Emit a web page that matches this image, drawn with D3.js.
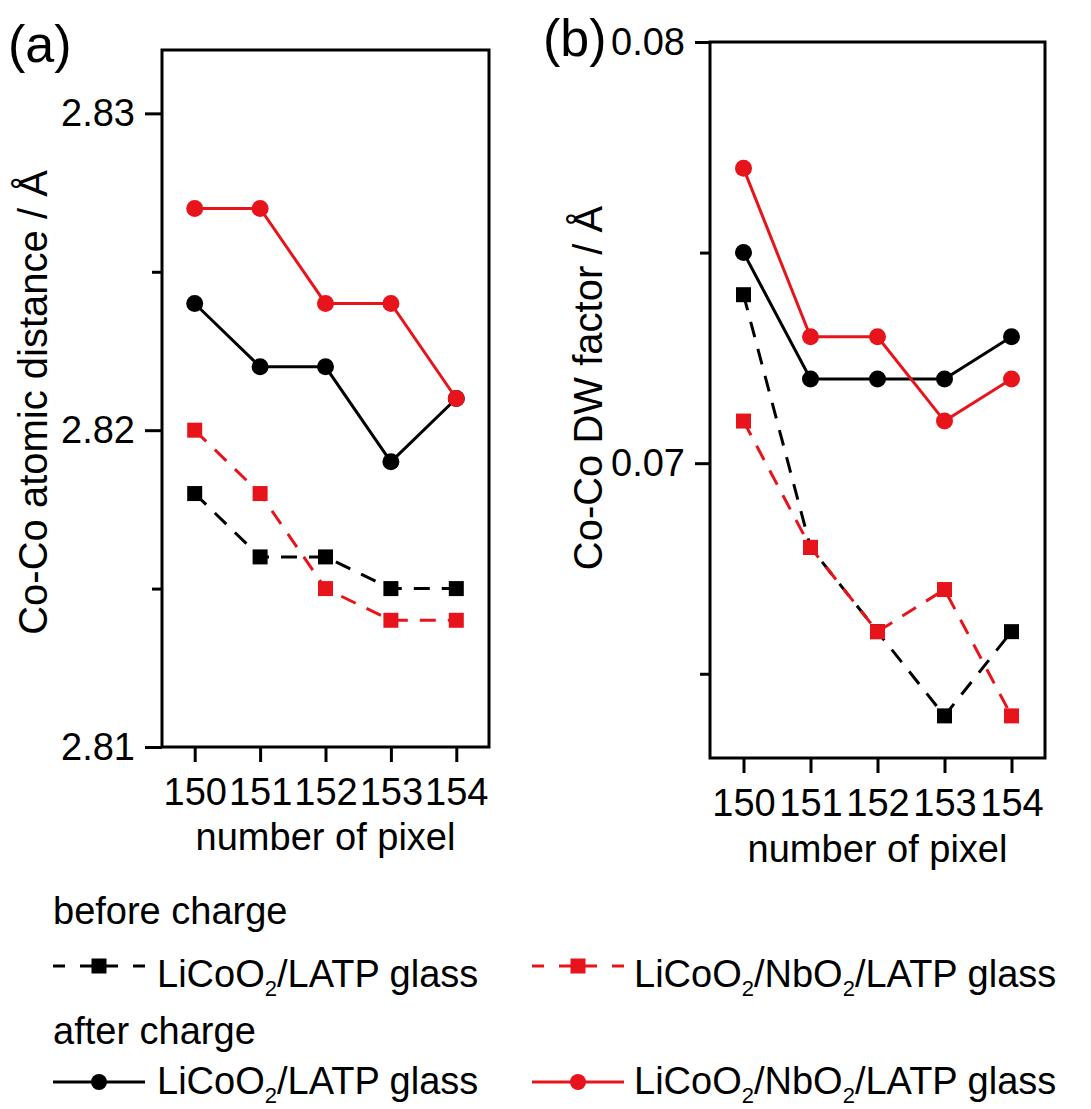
<!DOCTYPE html>
<html>
<head>
<meta charset="utf-8">
<script src="https://cdn.jsdelivr.net/npm/d3@7"></script>
<style>
  html, body { margin: 0; padding: 0; background: #fff; }
  svg text { font-family: "Liberation Sans", Arial, sans-serif; fill: #000; }
</style>
</head>
<body>
<svg id="chart" width="1091" height="1109"></svg>
<script>
// ---- data ----
const pixels = [150, 151, 152, 153, 154];

// (a) Co-Co atomic distance / Å
const distBeforeLATP = [2.818, 2.816, 2.816, 2.815, 2.815];
const distBeforeNb   = [2.820, 2.818, 2.815, 2.814, 2.814];
const distAfterLATP  = [2.824, 2.822, 2.822, 2.819, 2.821];
const distAfterNb    = [2.827, 2.827, 2.824, 2.824, 2.821];

// (b) Co-Co DW factor / Å
const dwBeforeLATP = [0.074, 0.068, 0.066, 0.064, 0.066];
const dwBeforeNb   = [0.071, 0.068, 0.066, 0.067, 0.064];
const dwAfterLATP  = [0.075, 0.072, 0.072, 0.072, 0.073];
const dwAfterNb    = [0.077, 0.073, 0.073, 0.071, 0.072];

const yTicksA = [2.81, 2.82, 2.83];
const yMinorA = [2.815, 2.825];
const yTicksB = [0.07, 0.08];
const yMinorB = [0.065, 0.075];

const groupTitles = ["before charge", "after charge"];

// ---- styles ----
const RED = "#e8141b", BLACK = "#000";
const styles = [
  { color: BLACK, dash: "16,12", marker: "square" },
  { color: RED,   dash: "16,12", marker: "square" },
  { color: BLACK, dash: null,    marker: "circle" },
  { color: RED,   dash: null,    marker: "circle" }
];
const FONT = "Liberation Sans, Arial, sans-serif";

const svg = d3.select("#chart");

function panel(cfg) {
  const g = svg.append("g");
  const x = d3.scaleLinear().domain([149.5, 154.5]).range([cfg.left, cfg.right]);
  const y = d3.scaleLinear().domain(cfg.yDomain).range([cfg.bottom, cfg.top]);

  // y minor ticks
  g.append("g").attr("transform", `translate(${cfg.left},0)`)
    .call(d3.axisLeft(y).tickValues(cfg.minor).tickSize(10).tickFormat(""))
    .call(s => s.select(".domain").remove())
    .call(s => s.selectAll("line").attr("stroke", "#000").attr("stroke-width", 3));

  // y major ticks
  g.append("g").attr("transform", `translate(${cfg.left},0)`)
    .call(d3.axisLeft(y).tickValues(cfg.major).tickSize(cfg.yTick).tickPadding(10).tickFormat(d3.format(".2f")))
    .call(s => s.select(".domain").remove())
    .call(s => s.selectAll("line").attr("stroke", "#000").attr("stroke-width", 3))
    .call(s => s.selectAll("text").attr("font-size", 38).attr("font-family", FONT).attr("fill", "#000"));

  // x ticks
  g.append("g").attr("transform", `translate(0,${cfg.bottom})`)
    .call(d3.axisBottom(x).tickValues(pixels).tickSize(15).tickPadding(16).tickFormat(d3.format("d")))
    .call(s => s.select(".domain").remove())
    .call(s => s.selectAll("line").attr("stroke", "#000").attr("stroke-width", 3))
    .call(s => s.selectAll("text").attr("font-size", 38).attr("font-family", FONT).attr("fill", "#000"));

  // frame
  g.append("rect")
    .attr("x", cfg.left).attr("y", cfg.top)
    .attr("width", cfg.right - cfg.left).attr("height", cfg.bottom - cfg.top)
    .attr("fill", "none").attr("stroke", "#000").attr("stroke-width", 3);

  // series
  const line = d3.line().x((d, i) => x(pixels[i])).y(d => y(d));
  cfg.series.forEach((vals, k) => {
    const st = styles[k];
    g.append("path").datum(vals)
      .attr("d", line).attr("fill", "none")
      .attr("stroke", st.color).attr("stroke-width", 3)
      .attr("stroke-dasharray", st.dash);
    const pts = g.append("g");
    vals.forEach((v, i) => {
      if (st.marker === "circle") {
        pts.append("circle").attr("cx", x(pixels[i])).attr("cy", y(v)).attr("r", 8.5).attr("fill", st.color);
      } else {
        pts.append("rect").attr("x", x(pixels[i]) - 7.5).attr("y", y(v) - 7.5)
          .attr("width", 15).attr("height", 15).attr("fill", st.color);
      }
    });
  });

  // axis titles
  g.append("text")
    .attr("transform", `translate(${cfg.yTitleX},${(cfg.top + cfg.bottom) / 2 + cfg.yTitleDy}) rotate(-90)`)
    .attr("text-anchor", "middle").attr("font-size", 40).text(cfg.yTitle);
  g.append("text")
    .attr("x", (cfg.left + cfg.right) / 2).attr("y", cfg.xTitleY)
    .attr("text-anchor", "middle").attr("font-size", 38).text("number of pixel");

  g.append("text").attr("x", cfg.labelX).attr("y", cfg.labelY).attr("font-size", 52).text(cfg.label);
}

panel({
  left: 162, right: 489, top: 50, bottom: 747,
  yDomain: [2.81, 2.832], major: yTicksA, minor: yMinorA, yTick: 17,
  series: [distBeforeLATP, distBeforeNb, distAfterLATP, distAfterNb],
  yTitle: "Co-Co atomic distance / Å", yTitleX: 47, yTitleDy: 4,
  xTitleY: 850, label: "(a)", labelX: 8, labelY: 62
});

panel({
  left: 710, right: 1045, top: 42, bottom: 758,
  yDomain: [0.063, 0.08], major: yTicksB, minor: yMinorB, yTick: 15,
  series: [dwBeforeLATP, dwBeforeNb, dwAfterLATP, dwAfterNb],
  yTitle: "Co-Co DW factor / Å", yTitleX: 602, yTitleDy: -12,
  xTitleY: 862, label: "(b)", labelX: 543, labelY: 56
});

// ---- legend ----
const leg = svg.append("g");
const legendGroups = [
  { titleY: 924, rowY: 966, textY: 987, items: [0, 1] },
  { titleY: 1044, rowY: 1082, textY: 1094, items: [2, 3] }
];
const itemX = [{ x0: 53, x1: 145, mx: 99, tx: 157 }, { x0: 532, x1: 624, mx: 578, tx: 634 }];
const labelParts = [
  ["LiCoO", "2", "/LATP glass"],
  ["LiCoO", "2", "/NbO", "2", "/LATP glass"]
];
legendGroups.forEach((gr, gi) => {
  leg.append("text").attr("x", 53).attr("y", gr.titleY).attr("font-size", 38).text(groupTitles[gi]);
  gr.items.forEach((k, j) => {
    const st = styles[k];
    const p = itemX[j];
    const ln = leg.append("line").attr("x1", p.x0).attr("x2", p.x1).attr("y1", gr.rowY).attr("y2", gr.rowY)
      .attr("stroke", st.color).attr("stroke-width", 3);
    if (st.dash) {
      // dash centred on the marker
      const period = 53, dashLen = 38;
      const startOfDash = (p.mx - p.x0) - dashLen / 2;
      ln.attr("stroke-dasharray", `${dashLen},${period - dashLen}`)
        .attr("stroke-dashoffset", ((period - startOfDash) % period + period) % period);
    }
    if (st.marker === "circle") {
      leg.append("circle").attr("cx", p.mx).attr("cy", gr.rowY).attr("r", 8).attr("fill", st.color);
    } else {
      leg.append("rect").attr("x", p.mx - 7.5).attr("y", gr.rowY - 7.5).attr("width", 15).attr("height", 15).attr("fill", st.color);
    }
    const t = leg.append("text").attr("x", p.tx).attr("y", gr.textY).attr("font-size", 38);
    const parts = labelParts[k % 2];
    let prevSub = false;
    parts.forEach(s => {
      if (s === "2") {
        t.append("tspan").attr("font-size", 22).attr("dy", 9).text(s);
        prevSub = true;
      } else {
        const ts = t.append("tspan").text(s);
        if (prevSub) ts.attr("dy", -9);
        prevSub = false;
      }
    });
  });
});
</script>
</body>
</html>
